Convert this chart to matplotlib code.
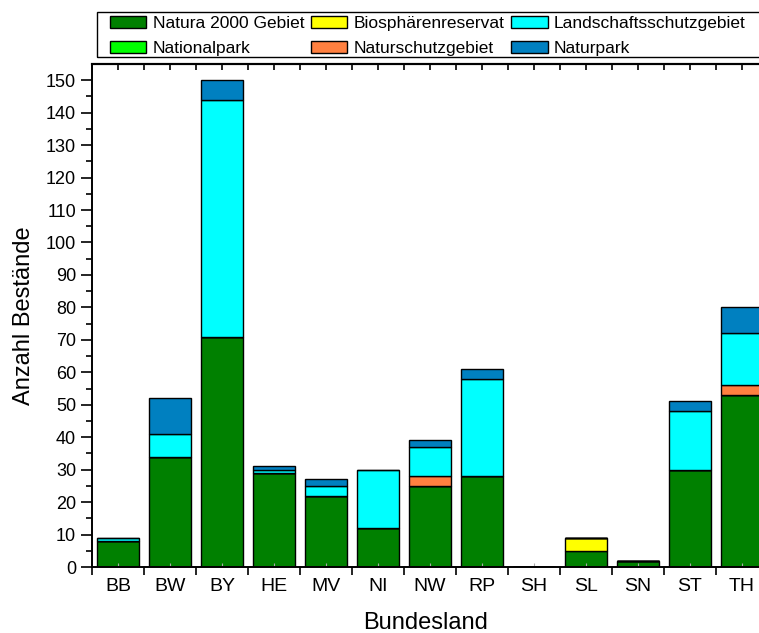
import matplotlib
matplotlib.use("Agg")
import matplotlib.pyplot as plt
from matplotlib.patches import Rectangle
import numpy as np

plt.rcParams['font.family'] = ['Liberation Sans', 'DejaVu Sans']

laender = ["BB", "BW", "BY", "HE", "MV", "NI", "NW", "RP", "SH", "SL", "SN", "ST", "TH"]

natura2000 = [8, 34, 71, 29, 22, 12, 25, 28, 0, 5, 2, 30, 53]
biosphaere = [0, 0, 0, 0, 0, 0, 0, 0, 0, 4, 0, 0, 0]
nationalpark = [0, 0, 0, 0, 0, 0, 0, 0, 0, 0, 0, 0, 0]
naturschutz = [0, 0, 0, 0, 0, 0, 3, 0, 0, 0, 0, 0, 3]
landschaft = [1, 7, 73, 1, 3, 18, 9, 30, 0, 0, 0, 18, 16]
naturpark = [0, 11, 6, 1, 2, 0, 2, 3, 0, 0, 0, 3, 8]

series = [
    ("Natura 2000 Gebiet", natura2000, "#008000"),
    ("Biosphärenreservat", biosphaere, "#FFFF00"),
    ("Nationalpark", nationalpark, "#00FF00"),
    ("Naturschutzgebiet", naturschutz, "#FF8040"),
    ("Landschaftsschutzgebiet", landschaft, "#00FFFF"),
    ("Naturpark", naturpark, "#0080C0"),
]

W, H = 759, 633
fig = plt.figure(figsize=(W / 100, H / 100), dpi=100)
ax = fig.add_axes([92 / W, 1 - 567 / H, 1 - 92 / W, (567 - 64) / H])

x = np.arange(len(laender))
bottom = np.zeros(len(laender))
handles = {}
for name, vals, color in series:
    vals = np.array(vals, dtype=float)
    b = ax.bar(x, vals, width=0.82, bottom=bottom, color=color,
               edgecolor="black", linewidth=1.0, label=name)
    handles[name] = b
    bottom += vals

XMAX = 12.33

# y axis
ax.set_yticks(np.arange(0, 151, 10))
ax.set_yticks(np.arange(5, 151, 10), minor=True)
ax.tick_params(axis="y", which="major", direction="out", length=8, width=1.2,
               labelsize=13)
ax.tick_params(axis="y", which="minor", direction="out", length=4, width=1.2)

# x axis: labels at centres, ticks at category boundaries
ax.set_xticks(x)
ax.set_xticklabels(laender)
ax.set_xticks(np.arange(-0.5, XMAX, 1.0), minor=True)
ax.tick_params(axis="x", which="major", direction="in", length=3, width=0.8,
               color="#aaaaaa", labelsize=14, pad=8)
ax.tick_params(axis="x", which="minor", direction="out", length=6, width=1.2)

# top axis ticks
top = ax.secondary_xaxis("top")
top.set_xticks(np.arange(-0.5, XMAX, 0.5))
top.tick_params(direction="in", length=4, width=1.2, labeltop=False)
top.spines["top"].set_linewidth(1.6)
top.spines["top"].set_color("#333333")

ax.set_xlim(-0.5, XMAX)
ax.set_ylim(0, 155)

for s in ["left", "bottom", "top"]:
    ax.spines[s].set_linewidth(1.4)
ax.spines["right"].set_visible(False)

ax.set_xlabel("Bundesland", fontsize=17, labelpad=12)
ax.set_ylabel("Anzahl Bestände", fontsize=17, labelpad=8)

order = ["Natura 2000 Gebiet", "Nationalpark", "Biosphärenreservat",
         "Naturschutzgebiet", "Landschaftsschutzgebiet", "Naturpark"]
leg = fig.legend([handles[n] for n in order], order, ncol=3,
                 loc="upper left", bbox_to_anchor=(110 / W, 1 - 16 / H),
                 bbox_transform=fig.transFigure, fontsize=12.5,
                 frameon=False, borderpad=0, handlelength=2.1,
                 handleheight=0.7, handletextpad=0.35, columnspacing=0.4,
                 labelspacing=0.55, borderaxespad=0)

# legend frame
fig.patches.append(Rectangle((97 / W, 1 - 57 / H), (W + 5 - 97) / W, 45 / H,
                             transform=fig.transFigure, fill=False,
                             edgecolor="black", linewidth=1.0, zorder=5))

fig.savefig("out.png", dpi=100)
